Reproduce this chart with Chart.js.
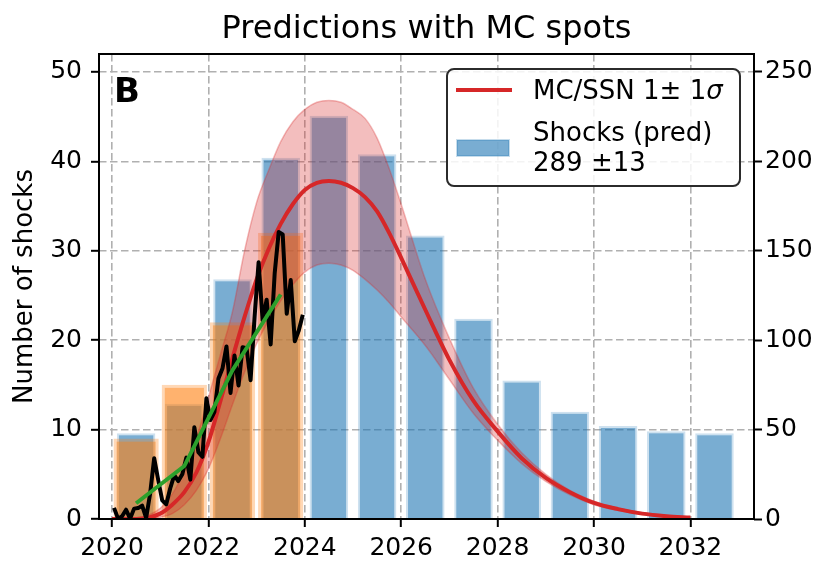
<!DOCTYPE html>
<html>
<head>
<meta charset="utf-8">
<script src="https://cdn.jsdelivr.net/npm/chart.js@4.4.1/dist/chart.umd.min.js"></script>
<style>
  html, body { margin: 0; padding: 0; background: #ffffff; }
  #wrap { width: 821px; height: 562px; }
</style>
</head>
<body>
<div id="wrap"><canvas id="chart" width="821" height="562"></canvas></div>
<script>
// Axis ticks
const xTicks = [2020, 2022, 2024, 2026, 2028, 2030, 2032];
const yTicks = [0, 10, 20, 30, 40, 50];
const y2Ticks = [0, 50, 100, 150, 200, 250];

// Shocks per year (bars centred mid-year)
const barYears = [2020.5, 2021.5, 2022.5, 2023.5, 2024.5, 2025.5, 2026.5,
                  2027.5, 2028.5, 2029.5, 2030.5, 2031.5, 2032.5];
const predShocks = [9.6, 12.9, 26.8, 40.4, 45.1, 40.8, 31.7, 22.4, 15.5, 12.0, 10.4, 9.8, 9.6];
const obsYears = [2020.5, 2021.5, 2022.5, 2023.5];
const obsShocks = [9, 15, 22, 32];

// Monthly sunspot number, one list per year
const ssn2020 = [6.2, 0.2, 1.5, 5.2, 0.2, 5.8, 6.1, 7.5, 0.6, 14.4, 34.0, 21.8];
const ssn2021 = [10.4, 8.2, 17.2, 24.5, 21.2, 25.0, 34.3, 22.0, 51.3, 37.4, 34.8, 67.5];
const ssn2022 = [55.3, 59.9, 78.5, 84.1, 96.5, 70.5, 91.4, 74.6, 96.0, 95.5, 77.6, 113.1];
const ssn2023 = [143.6, 110.9, 122.6, 97.6, 137.4, 160.5, 159.1, 114.8, 133.6, 99.4, 105.4, 114.2];

// Yearly mean sunspot number
const ssnYears = [2020.5, 2021.5, 2022.5, 2023.5];
const ssnAnnual = [8.8, 29.6, 83.2, 125.5];

// Monte Carlo cycle prediction (mean and 1-sigma envelope)
const mcTimes = [2020.0, 2020.5, 2021.0, 2021.25, 2021.5, 2021.75, 2022.0, 2022.25, 2022.5, 2022.75,
                 2023.0, 2023.25, 2023.5, 2023.75, 2024.0, 2024.25, 2024.5, 2024.75, 2025.0, 2025.25,
                 2025.5, 2025.75, 2026.0, 2026.5, 2027.0, 2027.5, 2028.0, 2028.5, 2029.0, 2029.5,
                 2030.0, 2030.5, 2031.0, 2031.5, 2032.0];
const mcMean  = [0, 0, 3, 8, 15, 26, 43, 66, 90, 113,
                 134, 151, 165, 176, 184, 188, 189, 188, 185, 180,
                 172, 160, 146, 117, 89, 66, 49, 34, 23, 15,
                 9, 5.5, 3, 1.6, 0.8];
const mcUpper = [0, 0.5, 6, 14, 27, 45, 68, 92, 116, 150,
                 177, 195, 211, 222, 229, 233, 234, 233, 229, 224,
                 213, 196, 176, 134, 101, 73, 53, 37, 25, 16,
                 10, 6, 3.5, 1.9, 1];
const mcLower = [0, 0, 1, 3, 8, 16, 28, 45, 64, 82,
                 98, 111, 122, 131, 138, 142, 143, 142, 139, 134,
                 128, 121, 113, 97, 78, 59, 44, 31, 21, 13.5,
                 8, 4.8, 2.6, 1.3, 0.6];

const FONT = '"DejaVu Sans", "Liberation Sans", sans-serif';

function pts(xs, ys) { return xs.map((x, i) => ({ x: x, y: ys[i] })); }

const monthlyPts = [];
[[2020, ssn2020], [2021, ssn2021], [2022, ssn2022], [2023, ssn2023]].forEach(([yr, vals]) => {
  vals.forEach((v, m) => monthlyPts.push({ x: yr + (m + 0.5) / 12, y: v }));
});

const RED = '#d62728';

const decorations = {
  id: 'decorations',
  afterDraw(chart) {
    const ctx = chart.ctx;
    const a = chart.chartArea;
    ctx.save();

    // frame
    ctx.strokeStyle = '#000';
    ctx.lineWidth = 2;
    ctx.strokeRect(a.left, a.top, a.right - a.left, a.bottom - a.top);

    // title
    ctx.fillStyle = '#000';
    ctx.font = '32px ' + FONT;
    ctx.textAlign = 'center';
    ctx.textBaseline = 'alphabetic';
    ctx.fillText('Predictions with MC spots', (a.left + a.right) / 2, 38);

    // y-axis label
    ctx.save();
    ctx.translate(32, (a.top + a.bottom) / 2);
    ctx.rotate(-Math.PI / 2);
    ctx.font = '26px ' + FONT;
    ctx.textAlign = 'center';
    ctx.fillText('Number of shocks', 0, 0);
    ctx.restore();

    // panel letter
    ctx.font = 'bold 34px ' + FONT;
    ctx.textAlign = 'left';
    ctx.fillText('B', 114, 102);

    // legend
    const lx = 447, ly = 69, lw = 293, lh = 117;
    ctx.beginPath();
    ctx.roundRect(lx, ly, lw, lh, 7);
    ctx.fillStyle = 'rgba(255,255,255,0.85)';
    ctx.fill();
    ctx.strokeStyle = '#2b2b2b';
    ctx.lineWidth = 2;
    ctx.stroke();

    ctx.beginPath();
    ctx.moveTo(456, 90);
    ctx.lineTo(512, 90);
    ctx.strokeStyle = RED;
    ctx.lineWidth = 4;
    ctx.stroke();

    ctx.fillStyle = 'rgba(31,119,180,0.6)';
    ctx.fillRect(457, 140, 52, 16);
    ctx.strokeStyle = 'rgba(31,119,180,0.25)';
    ctx.lineWidth = 2;
    ctx.strokeRect(457, 140, 52, 16);

    ctx.fillStyle = '#000';
    ctx.font = '26px ' + FONT;
    ctx.textAlign = 'left';
    const t1 = 'MC/SSN 1\u00b1 1';
    ctx.fillText(t1, 533, 99);
    const w1 = ctx.measureText(t1).width;
    ctx.font = 'italic 26px ' + FONT;
    ctx.fillText('\u03c3', 533 + w1, 99);
    ctx.font = '26px ' + FONT;
    ctx.fillText('Shocks (pred)', 533, 141);
    ctx.fillText('289 \u00b113', 533, 171);

    ctx.restore();
  }
};

const lineBase = { type: 'line', xAxisID: 'x', yAxisID: 'y2', pointRadius: 0, pointHoverRadius: 0, fill: false };

new Chart(document.getElementById('chart'), {
  type: 'bar',
  data: {
    datasets: [
      Object.assign({}, lineBase, {
        label: 'SSN yearly', data: pts(ssnYears, ssnAnnual), order: 0,
        borderColor: '#2ca02c', borderWidth: 4, tension: 0
      }),
      Object.assign({}, lineBase, {
        label: 'SSN monthly', data: monthlyPts, order: 1,
        borderColor: '#000000', borderWidth: 4, tension: 0, borderJoinStyle: 'round'
      }),
      Object.assign({}, lineBase, {
        label: 'MC/SSN', data: pts(mcTimes, mcMean), order: 2,
        borderColor: RED, borderWidth: 4, cubicInterpolationMode: 'monotone'
      }),
      Object.assign({}, lineBase, {
        label: 'MC upper', data: pts(mcTimes, mcUpper), order: 3,
        borderColor: 'rgba(214,39,40,0.3)', borderWidth: 1.5, cubicInterpolationMode: 'monotone',
        fill: 4, backgroundColor: 'rgba(214,39,40,0.3)'
      }),
      Object.assign({}, lineBase, {
        label: 'MC lower', data: pts(mcTimes, mcLower), order: 4,
        borderColor: 'rgba(214,39,40,0.3)', borderWidth: 1.5, cubicInterpolationMode: 'monotone'
      }),
      {
        type: 'bar', label: 'Shocks (obs)', data: pts(obsYears, obsShocks), order: 5,
        xAxisID: 'x', yAxisID: 'y', grouped: false,
        backgroundColor: 'rgba(255,127,14,0.6)', borderColor: 'rgba(255,127,14,0.3)',
        borderWidth: 3, borderSkipped: 'start',
        barPercentage: 0.94, categoryPercentage: 1.0
      },
      {
        type: 'bar', label: 'Shocks (pred)', data: pts(barYears, predShocks), order: 6,
        xAxisID: 'x', yAxisID: 'y', grouped: false,
        backgroundColor: 'rgba(31,119,180,0.6)', borderColor: 'rgba(31,119,180,0.22)',
        borderWidth: 2, borderSkipped: 'start',
        barPercentage: 0.8, categoryPercentage: 1.0
      }
    ]
  },
  options: {
    responsive: false,
    maintainAspectRatio: false,
    animation: false,
    events: [],
    layout: { padding: { top: 54, left: 0, right: 0, bottom: 0 } },
    plugins: {
      legend: { display: false },
      tooltip: { enabled: false },
      title: { display: false },
      filler: { drawTime: 'beforeDatasetDraw' }
    },
    scales: {
      x: {
        type: 'linear', position: 'bottom', min: 2019.73, max: 2033.32,
        offset: false, z: 1,
        afterBuildTicks: s => { s.ticks = xTicks.map(v => ({ value: v })); },
        afterFit: s => { s.height = 43; },
        ticks: {
          autoSkip: false, maxRotation: 0, padding: 6, color: '#000',
          font: { family: FONT, size: 25 },
          callback: v => String(v)
        },
        grid: {
          offset: false, color: '#b0b0b0', lineWidth: 1.6, drawOnChartArea: true,
          tickLength: 8, tickColor: '#000', tickWidth: 2, tickBorderDash: []
        },
        border: { display: false, dash: [7.5, 3.5] }
      },
      y: {
        type: 'linear', position: 'left', min: 0, max: 52, z: 1,
        afterBuildTicks: s => { s.ticks = yTicks.map(v => ({ value: v })); },
        afterFit: s => { s.width = 99; },
        ticks: {
          padding: 9, color: '#000',
          font: { family: FONT, size: 25 },
          callback: v => String(v)
        },
        grid: {
          color: '#b0b0b0', lineWidth: 1.6,
          tickLength: 8, tickColor: '#000', tickWidth: 2, tickBorderDash: []
        },
        border: { display: false, dash: [7.5, 3.5] }
      },
      y2: {
        type: 'linear', position: 'right', min: 0, max: 260, z: 1,
        afterBuildTicks: s => { s.ticks = y2Ticks.map(v => ({ value: v })); },
        afterFit: s => { s.width = 67; },
        ticks: {
          padding: 3, color: '#000',
          font: { family: FONT, size: 25 },
          callback: v => String(v)
        },
        grid: {
          drawOnChartArea: false,
          tickLength: 8, tickColor: '#000', tickWidth: 2, tickBorderDash: []
        },
        border: { display: false }
      }
    }
  },
  plugins: [decorations]
});
</script>
</body>
</html>
